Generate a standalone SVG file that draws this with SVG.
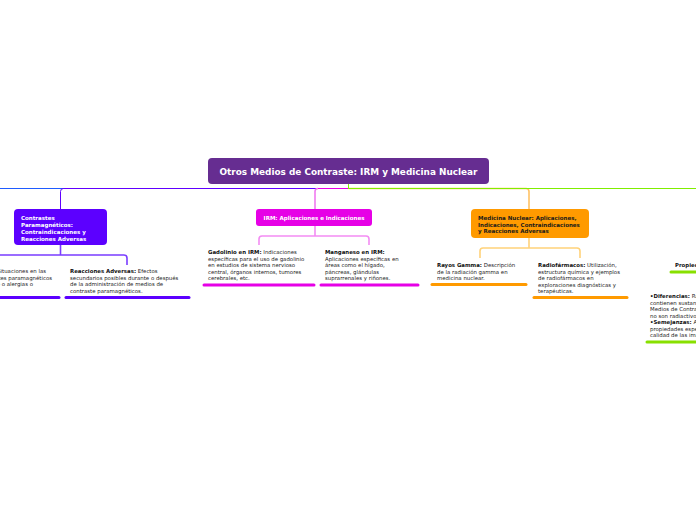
<svg xmlns="http://www.w3.org/2000/svg" width="696" height="520" viewBox="0 0 696 520">
<style>
.t{font-family:"DejaVu Sans",Verdana,sans-serif;font-size:5.4px;fill:#222}
.b{font-weight:bold;fill:#111}
.nw{font-family:"DejaVu Sans",Verdana,sans-serif;font-size:5.5px;font-weight:bold;fill:#fff}
.nd{font-family:"DejaVu Sans",Verdana,sans-serif;font-size:5.5px;font-weight:bold;fill:#1a1a1a}
.c{fill:none;stroke-width:1}
.s{fill:none;stroke-width:1.6}
.u{fill:none;stroke-width:3;stroke-linecap:round}
</style>
<rect width="696" height="520" fill="#fff"/>
<g id="connectors">
<path class="c" stroke="#1f5bff" d="M348.5,184 V188.5 H-10"/>
<path class="c" stroke="#6000ff" d="M348.5,184 V188.5 H63.5 Q60.5,188.5 60.5,191.5 V209"/>
<path class="c" stroke="#e600e6" d="M348.5,184 V188.5 H318"/>
<path class="s" stroke="#f07af0" d="M318,188.5 Q315,188.5 315,191.5 V209"/>
<path class="s" stroke="#ffc265" d="M348.5,188.5 H526 Q529,188.5 529,191.5 V209"/>
<path class="c" stroke="#80ee00" d="M348.5,184 V188.5 H700"/>
<path class="s" stroke="#7a3dff" d="M60.5,245 V255 H-10 M60.5,255 H124 Q127,255 127,258 V265"/>
<path class="s" stroke="#f38cf3" d="M315,226 V236 H262 Q259,236 259,239 V245 M315,236 H366 Q369,236 369,239 V245"/>
<path class="s" stroke="#ffd27a" d="M529,238 V248 H483 Q480,248 480,251 V258 M529,248 H577 Q580,248 580,251 V258"/>
</g>
<g id="root">
<rect x="208" y="158" width="281" height="26" rx="4" fill="#662d91"/>
<text x="348.5" y="174.8" text-anchor="middle" font-family="'DejaVu Sans',Verdana,sans-serif" font-size="8.9px" font-weight="bold" fill="#fff">Otros Medios de Contraste: IRM y Medicina Nuclear</text>
</g>
<g id="n-paramagneticos">
<rect x="14" y="209" width="93" height="36" rx="4" fill="#5c00ff"/>
<text class="nw"><tspan x="21" y="220">Contrastes</tspan><tspan x="21" y="227">Paramagnéticos:</tspan><tspan x="21" y="234">Contraindicaciones y</tspan><tspan x="21" y="241">Reacciones Adversas</tspan></text>
</g>
<g id="n-contraindicaciones">
<text class="t" text-anchor="end"><tspan x="46" y="273">Situaciones en las</tspan><tspan x="52" y="279.5">agentes paramagnéticos</tspan><tspan x="33" y="286">renal grave o alergias o</tspan></text>
<path class="u" stroke="#5c00ff" d="M-5,297.5 H59"/>
</g>
<g id="n-reacciones">
<text class="t"><tspan x="70" y="273"><tspan class="b">Reacciones Adversas:</tspan> Efectos</tspan><tspan x="70" y="279.5">secundarios posibles durante o después</tspan><tspan x="70" y="286">de la administración de medios de</tspan><tspan x="70" y="292.5">contraste paramagnéticos.</tspan></text>
<path class="u" stroke="#5c00ff" d="M66,297.5 H189"/>
</g>
<g id="n-irm">
<rect x="256" y="209" width="116" height="17" rx="3" fill="#e600e6"/>
<text class="nw" x="314" y="219.7" text-anchor="middle">IRM: Aplicaciones e Indicaciones</text>
</g>
<g id="n-gadolinio">
<text class="t"><tspan x="208" y="254"><tspan class="b">Gadolinio en IRM:</tspan> Indicaciones</tspan><tspan x="208" y="260.5">específicas para el uso de gadolinio</tspan><tspan x="208" y="267">en estudios de sistema nervioso</tspan><tspan x="208" y="273.5">central, órganos internos, tumores</tspan><tspan x="208" y="280">cerebrales, etc.</tspan></text>
<path class="u" stroke="#e600e6" d="M204,285 H314"/>
</g>
<g id="n-manganeso">
<text class="t"><tspan x="325" y="254" class="b">Manganeso en IRM:</tspan><tspan x="325" y="260.5">Aplicaciones específicas en</tspan><tspan x="325" y="267">áreas como el hígado,</tspan><tspan x="325" y="273.5">páncreas, glándulas</tspan><tspan x="325" y="280">suprarrenales y riñones.</tspan></text>
<path class="u" stroke="#e600e6" d="M321,285 H418"/>
</g>
<g id="n-medicina">
<rect x="471" y="209" width="118" height="29" rx="4" fill="#ff9a00"/>
<text class="nd"><tspan x="478" y="220">Medicina Nuclear: Aplicaciones,</tspan><tspan x="478" y="226.7">Indicaciones, Contraindicaciones</tspan><tspan x="478" y="233.4">y Reacciones Adversas</tspan></text>
</g>
<g id="n-rayos">
<text class="t"><tspan x="437" y="267"><tspan class="b">Rayos Gamma:</tspan> Descripción</tspan><tspan x="437" y="273.5">de la radiación gamma en</tspan><tspan x="437" y="280">medicina nuclear.</tspan></text>
<path class="u" stroke="#ff9a00" d="M432,284.5 H526"/>
</g>
<g id="n-radiofarmacos">
<text class="t"><tspan x="538" y="267"><tspan class="b">Radiofármacos:</tspan> Utilización,</tspan><tspan x="538" y="273.5">estructura química y ejemplos</tspan><tspan x="538" y="280">de radiofármacos en</tspan><tspan x="538" y="286.5">exploraciones diagnósticas y</tspan><tspan x="538" y="293">terapéuticas.</tspan></text>
<path class="u" stroke="#ff9a00" d="M534,297.5 H627"/>
</g>
<g id="n-propiedades">
<text class="t b" x="675" y="267">Propiedades</text>
<path class="u" stroke="#88e000" d="M671,272 H700"/>
</g>
<g id="n-diferencias">
<text class="t"><tspan x="650" y="298"><tspan class="b">•Diferencias:</tspan> Radiofármacos</tspan><tspan x="650" y="304.5">contienen sustancias</tspan><tspan x="650" y="311">Medios de Contraste</tspan><tspan x="650" y="317.5">no son radiactivos.</tspan><tspan x="650" y="324"><tspan class="b">•Semejanzas:</tspan> Ambos</tspan><tspan x="650" y="330.5">propiedades específicas</tspan><tspan x="650" y="337">calidad de las imágenes.</tspan></text>
<path class="u" stroke="#88e000" d="M647,342 H700"/>
</g>
</svg>
